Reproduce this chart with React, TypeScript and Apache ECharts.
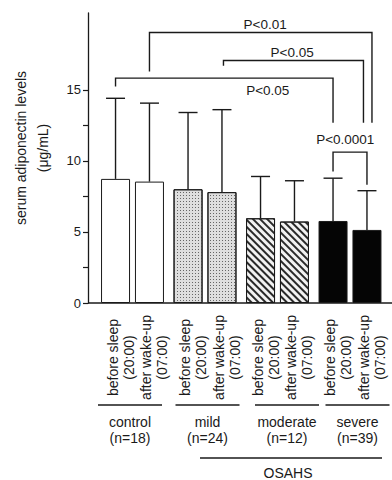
import React, { useEffect, useRef } from "react";
import * as echarts from "echarts";

// ---------- data ----------
const groups = ["control", "mild", "moderate", "severe"];
const groupN = ["(n=18)", "(n=24)", "(n=12)", "(n=39)"];
const slotLabels = ["before sleep\n(20:00)", "after wake-up\n(07:00)"];
const beforeMean = [8.73, 8.0, 5.96, 5.77];
const beforeUpper = [14.4, 13.4, 8.9, 8.78];
const afterMean = [8.54, 7.8, 5.73, 5.14];
const afterUpper = [14.06, 13.6, 8.6, 7.9];
const yTickValues = [0, 2.5, 5, 7.5, 10, 12.5, 15];
const yLabelValues = [0, 5, 10, 15];
const yTitle = "serum adiponectin levels\n(μg/mL)";
const superGroupLabel = "OSAHS";
const superGroupRange = [1, 3];
// significance brackets: [group, slot] ends, level of bar, drop ends (in y units)
const sigText = ["P<0.01", "P<0.05", "P<0.05", "P<0.0001"];
const sigLeft = [[0, 1], [1, 1], [0, 0], [3, 0]];
const sigRight = [[3, 1], [3, 1], [3, 0], [3, 1]];
const sigLevel = [19.03, 17.06, 15.82, 10.61];
const sigLeftEnd = [16.29, 16.69, 15.23, 9.25];
const sigRightEnd = [12.68, 12.68, 12.68, 8.31];

// ---------- layout / style ----------
const FONT = '"Liberation Sans", Arial, sans-serif';
const INK = "#1a1a1a";
const GRID_LEFT = 96.25;
const GRID_RIGHT = 5.75;
const GRID_TOP = 13;
const GRID_BOTTOM = 177;
const Y_OFFSET = 8.25;
const BAR_W = 29;
const BAR_GAP = 0.17;
const CAP = 19;
const groupLabelShift = [-2.5, 2.5, 9.5, 7.5];
const sigRightNudge = [5, -3.5, 0, 0];
const sigLeftNudge = [0, 1.5, 0, 0];
const sigTextFrac = [0.52, 0.49, 0.7, 0.36];
const sigTextDy = [-8, -8, 12.5, -13];

const groupStyles: any[] = [
  { color: "#ffffff" },
  {
    color: "#dedede",
    decal: {
      symbol: "rect",
      symbolSize: 1,
      dashArrayX: [1, 2],
      dashArrayY: [1, 2],
      color: "#666666",
    },
  },
  {
    color: "#f2f2f2",
    decal: {
      symbol: "rect",
      symbolSize: 1,
      dashArrayX: [1, 0],
      dashArrayY: [2, 2.2],
      rotation: Math.PI / 4,
      color: "#2a2a2a",
    },
  },
  { color: "#050505" },
];

export default function App() {
  const ref = useRef<HTMLDivElement>(null);
  useEffect(() => {
    if (!ref.current) return;
    const chart = echarts.init(ref.current, null, { renderer: "svg" });
    const slotPx = BAR_W * (1 + BAR_GAP);

    const barData = (vals: number[]) =>
      vals.map((v, i) => ({
        value: v,
        itemStyle: { ...groupStyles[i], borderColor: INK, borderWidth: 1 },
      }));

    const errData: number[][] = [];
    groups.forEach((_, i) => {
      errData.push([i, beforeMean[i], beforeUpper[i], 0]);
      errData.push([i, afterMean[i], afterUpper[i], 1]);
    });

    chart.setOption({
      animation: false,
      backgroundColor: "#ffffff",
      grid: { left: GRID_LEFT, right: GRID_RIGHT, top: GRID_TOP, bottom: GRID_BOTTOM },
      xAxis: {
        type: "category",
        data: groups.map((g, i) => ({
          value: g,
          textStyle: {
            padding:
              groupLabelShift[i] >= 0
                ? [0, 0, 0, 2 * groupLabelShift[i]]
                : [0, -2 * groupLabelShift[i], 0, 0],
          },
        })),
        axisLine: { show: false },
        axisTick: { show: false },
        axisLabel: {
          margin: 111,
          interval: 0,
          fontFamily: FONT,
          fontSize: 14,
          lineHeight: 16,
          color: INK,
          formatter: (v: string) => `${v}\n${groupN[groups.indexOf(v)]}`,
        },
      },
      yAxis: {
        type: "value",
        min: 0,
        max: 20.4,
        offset: Y_OFFSET,
        splitLine: { show: false },
        axisLine: { show: true, lineStyle: { color: INK, width: 1.3 } },
        axisTick: {
          show: true,
          length: 5,
          lineStyle: { color: INK, width: 1.2 },
          customValues: yTickValues,
        },
        axisLabel: {
          customValues: yLabelValues,
          fontFamily: FONT,
          fontSize: 13,
          color: INK,
          margin: 7,
        },
      },
      series: [
        {
          type: "bar",
          name: "before",
          barWidth: BAR_W,
          barGap: `${BAR_GAP * 100}%`,
          data: barData(beforeMean),
        },
        {
          type: "bar",
          name: "after",
          barWidth: BAR_W,
          barGap: `${BAR_GAP * 100}%`,
          data: barData(afterMean),
        },
        {
          type: "custom",
          name: "sd",
          clip: false,
          z: 5,
          encode: { x: 0, y: [1, 2] },
          data: errData,
          renderItem: (_p: any, api: any) => {
            const cat = api.value(0);
            const mean = api.value(1);
            const upper = api.value(2);
            const slot = api.value(3);
            const base = api.coord([cat, 0]);
            const pm = api.coord([cat, mean]);
            const pu = api.coord([cat, upper]);
            const x = base[0] + (slot - 0.5) * slotPx;
            const ls = { stroke: INK, lineWidth: 1.4 };
            return {
              type: "group",
              children: [
                { type: "line", shape: { x1: x, y1: pm[1], x2: x, y2: pu[1] }, style: ls },
                {
                  type: "line",
                  shape: { x1: x - CAP / 2, y1: pu[1], x2: x + CAP / 2, y2: pu[1] },
                  style: ls,
                },
                {
                  type: "text",
                  x: x + 5,
                  y: base[1] + 54.5,
                  rotation: Math.PI / 2,
                  style: {
                    text: slotLabels[slot],
                    align: "center",
                    verticalAlign: "middle",
                    font: `14px ${FONT}`,
                    lineHeight: 16,
                    fill: INK,
                  },
                },
              ],
            };
          },
        },
      ],
    });

    const toPx = (cat: number, v: number) =>
      chart.convertToPixel({ gridIndex: 0 }, [cat, v]) as number[];
    const barX = (cat: number, slot: number) => toPx(cat, 0)[0] + (slot - 0.5) * slotPx;
    const y0 = toPx(0, 0)[1];
    const lineStyle = { stroke: INK, lineWidth: 1.4 };
    const textStyle = (t: string, x: number, y: number, extra: any = {}) => ({
      type: "text",
      x,
      y,
      style: {
        text: t,
        align: "center",
        verticalAlign: "middle",
        font: `14px ${FONT}`,
        fill: INK,
        ...extra,
      },
    });
    const g: any[] = [];
    // baseline of the value axis
    g.push({
      type: "line",
      shape: { x1: GRID_LEFT - Y_OFFSET, y1: y0, x2: 392, y2: y0 },
      style: { stroke: INK, lineWidth: 1.3 },
    });
    // group underlines
    groups.forEach((_, i) => {
      const cx = toPx(i, 0)[0] + groupLabelShift[i];
      g.push({
        type: "line",
        shape: { x1: cx - 32, y1: y0 + 102, x2: cx + 32, y2: y0 + 102 },
        style: { stroke: INK, lineWidth: 1.5 },
      });
    });
    // OSAHS bar
    const ox1 = toPx(superGroupRange[0], 0)[0] - 5;
    const ox2 = toPx(superGroupRange[1], 0)[0] + 32;
    g.push({
      type: "line",
      shape: { x1: ox1, y1: y0 + 155, x2: ox2, y2: y0 + 155 },
      style: { stroke: INK, lineWidth: 1.5 },
    });
    g.push(textStyle(superGroupLabel, (ox1 + ox2) / 2 - 3, y0 + 169.5));
    // y title
    g.push({
      type: "text",
      x: 32,
      y: 148,
      rotation: Math.PI / 2,
      style: {
        text: yTitle,
        align: "center",
        verticalAlign: "middle",
        font: `14px ${FONT}`,
        lineHeight: 22,
        fill: INK,
      },
    });
    // significance brackets
    sigText.forEach((t, k) => {
      const xl = barX(sigLeft[k][0], sigLeft[k][1]) + sigLeftNudge[k];
      const xr = barX(sigRight[k][0], sigRight[k][1]) + sigRightNudge[k];
      const yl = toPx(0, sigLevel[k])[1];
      const ya = toPx(0, sigLeftEnd[k])[1];
      const yb = toPx(0, sigRightEnd[k])[1];
      g.push({
        type: "polyline",
        shape: { points: [[xl, ya], [xl, yl], [xr, yl], [xr, yb]] },
        style: { ...lineStyle, fill: null },
      });
      g.push(textStyle(t, xl + (xr - xl) * sigTextFrac[k], yl + sigTextDy[k], { font: `13.5px ${FONT}` }));
    });
    chart.setOption({ graphic: g });

    return () => chart.dispose();
  }, []);
  return (
    <div
      ref={ref}
      style={{ position: "fixed", left: 0, top: 0, width: 392, height: 480, background: "#fff" }}
    />
  );
}
